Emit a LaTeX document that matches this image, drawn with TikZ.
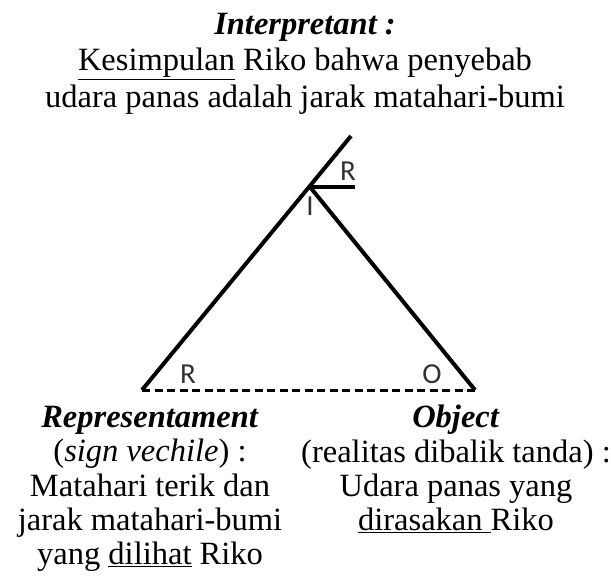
\documentclass[tikz,border=0pt]{standalone}
\usepackage{fontspec}
\setmainfont{Liberation Serif}
\newfontfamily\cornerfont{Carlito}
\definecolor{LetterGray}{RGB}{50, 50, 50}

\begin{document}
\begin{tikzpicture}[x=1pt, y=-1pt,
    side/.style={line width=4pt},
    baseline dash/.style={line width=3pt, dash pattern=on 8pt off 4.5pt},
    corner/.style={font=\cornerfont\fontsize{29}{29}\selectfont, text=LetterGray, inner sep=0pt},
    caption/.style={align=center, inner sep=0pt, anchor=north}]
    \useasboundingbox (0,0) rectangle (611,580);

    % Triangle corners
    \coordinate (rep) at (142,390);
    \coordinate (obj) at (475,390);
    \coordinate (int) at (310,187);
    \coordinate (tip) at (351,136);
    \coordinate (bar) at (355,187);

    % Sides
    \draw[side] (rep) -- (tip);
    \draw[side] (int) -- (obj);
    \draw[side] (int) -- (bar);
    \draw[baseline dash] (rep) -- (obj);

    % Corner letters
    \node[corner] (letterR) at (348,171) {R};
    \node[corner] (letterI) at (310,206) {I};
    \node[corner] (letterRep) at (188,374) {R};
    \node[corner] (letterO) at (432,374) {O};

    % Interpretant
    \node[caption, font=\fontsize{32.5}{36.5}\selectfont] (interp) at (305,13)
        {\textbf{\textit{Interpretant :}}\\
         \underline{Kesimpulan} Riko bahwa penyebab\\
         udara panas adalah jarak matahari-bumi};

    % Representament
    \node[caption, font=\fontsize{32.5}{34.3}\selectfont] (repText) at (150,406)
        {\textbf{\textit{Representament}}\\
         (\textit{sign vechile}) :\\
         Matahari terik dan\\
         jarak matahari-bumi\\
         yang \underline{dilihat} Riko};

    % Object
    \node[caption, font=\fontsize{32.5}{34.3}\selectfont] (objText) at (456,405)
        {\textbf{\textit{Object}}\\
         (realitas dibalik tanda) :\\
         Udara panas yang\\
         \underline{dirasakan\ }Riko};
\end{tikzpicture}
\end{document}
